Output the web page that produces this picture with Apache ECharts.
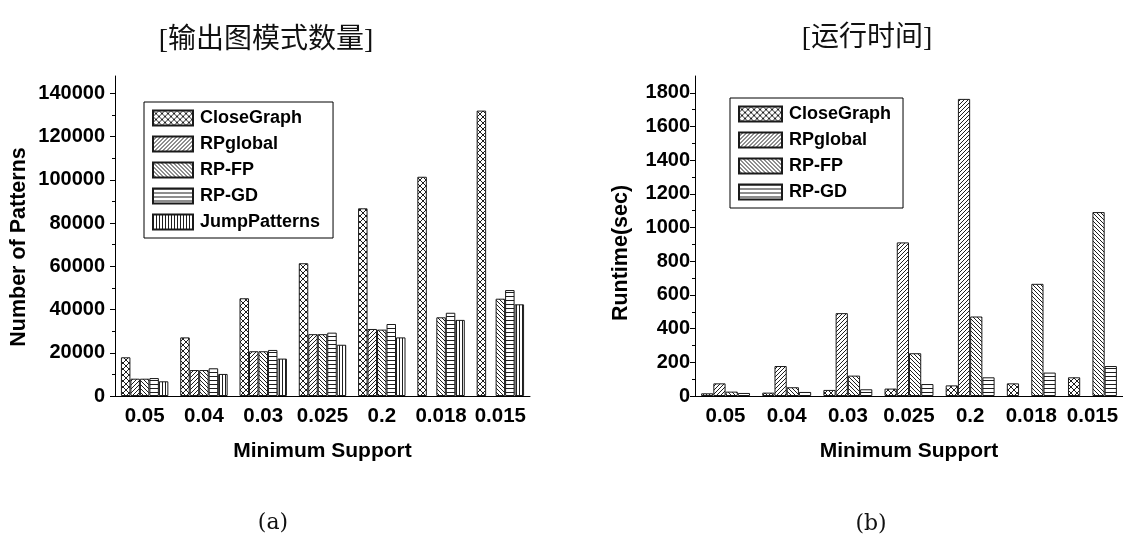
<!DOCTYPE html>
<html>
<head>
<meta charset="utf-8">
<title>Patterns and runtime by minimum support</title>
<script src="https://cdn.jsdelivr.net/npm/echarts@6/dist/echarts.min.js"></script>
<style>
  html, body { margin: 0; padding: 0; background: #fff; }
  #chart { width: 1123px; height: 540px; }
</style>
</head>
<body>
<div id="chart"></div>
<script>
// Minimum-support thresholds on the x axis of both panels
const categories = ['0.05', '0.04', '0.03', '0.025', '0.2', '0.018', '0.015'];

// Panel (a): number of output patterns
const closeGraphCount = [17900, 27100, 45200, 61400, 86800, 101400, 132000];
const rpGlobalCount   = [8000, 12000, 20700, 28600, 31000, null, null];
const rpFpCount       = [8000, 12000, 20700, 28600, 30700, 36400, 45000];
const rpGdCount       = [8300, 12800, 21300, 29300, 33300, 38500, 49000];
const jumpCount       = [6800, 10200, 17300, 23700, 27100, 35200, 42400];

// Panel (b): runtime in seconds
const closeGraphTime = [16, 20, 36, 44, 63, 75, 111];
const rpGlobalTime   = [75, 178, 492, 912, 1764, null, null];
const rpFpTime       = [26, 52, 121, 254, 472, 666, 1092];
const rpGdTime       = [18, 24, 40, 71, 111, 139, 178];

// Tick labels of the two value axes
const countTicks = [0, 20000, 40000, 60000, 80000, 100000, 120000, 140000];
const timeTicks  = [0, 200, 400, 600, 800, 1000, 1200, 1400, 1600, 1800];

// Monochrome hatch fills, drawn pixel by pixel on small repeating tiles
function hatch(kind) {
  const size = { cross: 6, fwd: 4, back: 4, horiz: 4, vert: 3 }[kind];
  const c = document.createElement('canvas');
  c.width = size; c.height = size;
  const g = c.getContext('2d');
  g.fillStyle = '#fff';
  g.fillRect(0, 0, size, size);
  g.fillStyle = '#1e1e1e';
  for (let i = 0; i < size; i++) {
    if (kind === 'cross' || kind === 'fwd') g.fillRect(i, size - 1 - i, 1, 1);
    if (kind === 'cross' || kind === 'back') g.fillRect(i, i, 1, 1);
    if (kind === 'horiz') g.fillRect(i, 0, 1, 1);
    if (kind === 'vert') g.fillRect(0, i, 1, 1);
  }
  return { image: c, repeat: 'repeat' };
}

const fills = {
  CloseGraph: hatch('cross'),
  RPglobal: hatch('fwd'),
  'RP-FP': hatch('back'),
  'RP-GD': hatch('horiz'),
  JumpPatterns: hatch('vert')
};

const FONT = "'Liberation Sans', Arial, sans-serif";
const boldText = (size) => ({ fontFamily: FONT, fontWeight: 'bold', fontSize: size, color: '#000' });

function bar(name, data, axisIndex) {
  return {
    name: name,
    type: 'bar',
    data: data,
    xAxisIndex: axisIndex * 2,
    yAxisIndex: axisIndex,
    barGap: 0,
    barCategoryGap: '20%',
    itemStyle: { color: fills[name], borderColor: '#1a1a1a', borderWidth: 1 },
    emphasis: { disabled: true }
  };
}

function categoryAxes(gridIndex) {
  return [
    {
      type: 'category', gridIndex: gridIndex, position: 'bottom', data: categories,
      axisLine: { lineStyle: { color: '#000', width: 1 } },
      axisTick: { alignWithLabel: true, length: 5, lineStyle: { color: '#000' } },
      axisLabel: Object.assign(boldText(20.5), { margin: 10, interval: 0 }),
      name: 'Minimum Support', nameLocation: 'middle', nameGap: 45,
      nameTextStyle: boldText(21)
    },
    {
      // short ticks on the category boundaries
      type: 'category', gridIndex: gridIndex, position: 'bottom', data: categories,
      axisLine: { show: false },
      axisTick: { length: 3, lineStyle: { color: '#000' } },
      axisLabel: { show: false }
    }
  ];
}

function valueAxis(gridIndex, max, interval, ticks, labelMargin) {
  return {
    type: 'value', gridIndex: gridIndex, min: 0, max: max, interval: interval,
    axisLine: { show: true, lineStyle: { color: '#000', width: 1 } },
    axisTick: { show: true, length: 5, customValues: ticks, lineStyle: { color: '#000' } },
    minorTick: { show: true, splitNumber: 2, length: 3, lineStyle: { color: '#000' } },
    splitLine: { show: false },
    axisLabel: Object.assign(boldText(20), {
      margin: labelMargin, customValues: ticks,
      formatter: (v) => String(v)
    })
  };
}

// Rotated value-axis titles
function axisTitle(text, x, y) {
  return {
    type: 'text', x: x, y: y, rotation: Math.PI / 2,
    style: {
      text: text, fill: '#000', align: 'center', verticalAlign: 'middle',
      font: "bold 21.5px 'Liberation Sans', Arial, sans-serif"
    }
  };
}

const legendBase = {
  orient: 'vertical',
  icon: 'rect',
  itemHeight: 15,
  itemGap: 8,
  borderColor: '#000',
  borderWidth: 1,
  textStyle: Object.assign(boldText(18), { padding: [0, 0, 0, 2] }),
  selectedMode: false
};

const titleFont = { fontFamily: "'Liberation Serif', 'Noto Sans CJK SC'", fontWeight: 'normal', fontSize: 28, color: '#111' };
const captionFont = { fontFamily: "'DejaVu Serif', 'Liberation Serif'", fontWeight: 'normal', fontSize: 22, color: '#111' };

const option = {
  animation: false,
  backgroundColor: '#fff',
  title: [
    { text: '[输出图模式数量]', left: 261, top: 22, textAlign: 'center', textStyle: titleFont },
    { text: '[运行时间]', left: 862, top: 20, textAlign: 'center', textStyle: titleFont },
    { text: '(a)', left: 268, top: 507, textAlign: 'center', textStyle: captionFont },
    { text: '(b)', left: 866, top: 508, textAlign: 'center', textStyle: captionFont }
  ],
  grid: [
    { left: 115, top: 76, width: 415, bottom: 144, containLabel: false },
    { left: 695, top: 76, width: 431, bottom: 144, containLabel: false }
  ],
  xAxis: categoryAxes(0).concat(categoryAxes(1)),
  yAxis: [
    valueAxis(0, 148000, 20000, countTicks, 10),
    valueAxis(1, 1900, 200, timeTicks, 5)
  ],
  graphic: [
    axisTitle('Number of Patterns', 19, 247),
    axisTitle('Runtime(sec)', 621, 253)
  ],
  legend: [
    Object.assign({}, legendBase, {
      left: 144, top: 102, itemWidth: 40, padding: [7, 13, 7, 8],
      data: ['CloseGraph', 'RPglobal', 'RP-FP', 'RP-GD', 'JumpPatterns']
    }),
    Object.assign({}, legendBase, {
      left: 730, top: 98, itemWidth: 43, padding: [7, 12, 7, 8],
      data: ['CloseGraph', 'RPglobal', 'RP-FP', 'RP-GD']
    })
  ],
  series: [
    bar('CloseGraph', closeGraphCount, 0),
    bar('RPglobal', rpGlobalCount, 0),
    bar('RP-FP', rpFpCount, 0),
    bar('RP-GD', rpGdCount, 0),
    bar('JumpPatterns', jumpCount, 0),
    bar('CloseGraph', closeGraphTime, 1),
    bar('RPglobal', rpGlobalTime, 1),
    bar('RP-FP', rpFpTime, 1),
    bar('RP-GD', rpGdTime, 1)
  ]
};

const chart = echarts.init(document.getElementById('chart'), null, { renderer: 'canvas' });
chart.setOption(option);
</script>
</body>
</html>
